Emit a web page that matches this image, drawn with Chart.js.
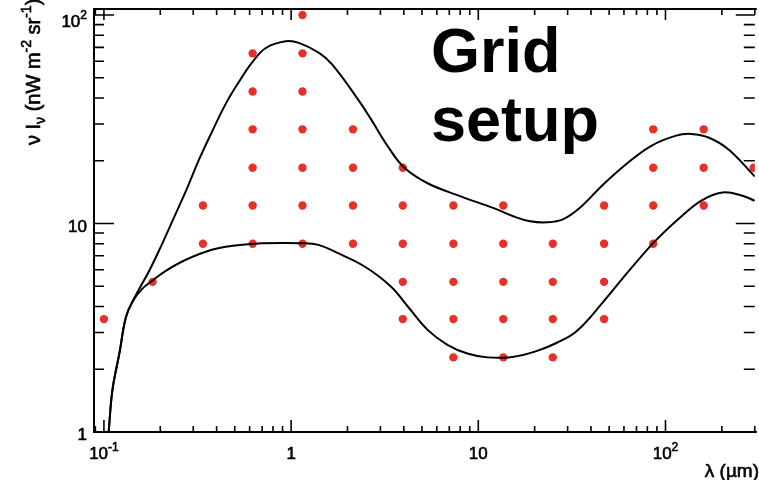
<!DOCTYPE html>
<html>
<head>
<meta charset="utf-8">
<script src="https://cdn.jsdelivr.net/npm/chart.js@4.4.1/dist/chart.umd.min.js"></script>
<style>
  html, body { margin: 0; padding: 0; background: #fff; }
  #sed { display: block; }
</style>
</head>
<body>
<canvas id="sed" width="759" height="480"></canvas>
<script>
// upper and lower envelope of the spectra (lambda in um, nu I_nu in nW m^-2 sr^-1)
const upperLambda = [0.106, 0.111, 0.121, 0.131, 0.1426, 0.1553, 0.1755, 0.200, 0.2324, 0.2758, 0.3233, 0.3804, 0.448, 0.527, 0.618, 0.733, 0.936, 1.10, 1.41, 1.66, 2.28, 2.68, 3.29, 4.03, 5.36, 8.05, 12.1, 15.5, 18.9, 23.3, 28.3, 34.9, 46.2, 61.8, 84, 114, 137, 171, 218, 300];
const upperFlux   = [1.0, 1.59, 2.39, 3.55, 4.25, 4.91, 5.99, 7.64, 10.3, 14.5, 20.4, 27.9, 37.6, 47.9, 59.1, 69.5, 74.8, 73.5, 65.8, 57.8, 39.3, 31.5, 23.4, 18.5, 15.6, 13.5, 11.85, 10.8, 10.25, 10.13, 10.47, 11.9, 15.3, 19.3, 23.6, 26.4, 26.9, 25.8, 22.6, 16.8];

const lowerLambda = [0.106, 0.111, 0.121, 0.131, 0.142, 0.160, 0.181, 0.214, 0.274, 0.377, 0.488, 0.696, 1.15, 1.40, 1.78, 2.47, 3.42, 4.20, 5.36, 6.84, 8.74, 11.2, 15.2, 20.6, 26.3, 33.6, 46.5, 64.4, 89.3, 124, 158, 202, 258, 300];
const lowerFlux   = [1.0, 1.59, 2.39, 3.55, 4.21, 4.86, 5.31, 5.93, 6.70, 7.48, 7.82, 8.04, 8.05, 7.90, 7.21, 6.22, 4.98, 4.00, 3.09, 2.62, 2.38, 2.28, 2.29, 2.45, 2.68, 3.05, 4.21, 5.99, 8.35, 11.0, 13.0, 14.1, 13.6, 12.85];

// grid nodes: columns in lambda, rows in flux, and which rows are used per column
const gridLambda = [0.1, 0.182, 0.338, 0.623, 1.15, 2.14, 3.95, 7.36, 13.6, 25, 47, 86, 160, 296];
const gridFlux   = [2.28, 3.48, 5.25, 8.0, 12.2, 18.5, 28.3, 43, 65.5, 100];
const gridRows   = [[1], [2], [3, 4], [3, 4, 5, 6, 7, 8], [3, 4, 5, 6, 7, 8, 9], [3, 4, 5, 6], [1, 2, 3, 4, 5], [0, 1, 2, 3, 4], [0, 1, 2, 3, 4], [0, 1, 2, 3], [1, 2, 3, 4], [3, 4, 5, 6], [4, 5, 6], [5]];

// decade labels: [base, exponent]
const xDecades = [0.1, 1, 10, 100];
const xDecadeLabels = [['10', '-1'], ['1', ''], ['10', ''], ['10', '2']];
const yDecades = [1, 10, 100];
const yDecadeLabels = [['1', ''], ['10', ''], ['10', '2']];

const FONT = '"Liberation Sans", Arial, sans-serif';

const toXY = (xs, ys) => xs.map((v, i) => ({ x: v, y: ys[i] }));

const gridPoints = [];
gridRows.forEach((rows, i) => {
  rows.forEach(j => gridPoints.push({ x: gridLambda[i], y: gridFlux[j] }));
});

// 1..9 x 10^n ticks inside [min, max]; major = decade
function logTicks(min, max) {
  const out = [];
  for (let d = Math.floor(Math.log10(min)); d <= Math.ceil(Math.log10(max)); d++) {
    for (let m = 1; m <= 9; m++) {
      const v = m * Math.pow(10, d);
      if (v >= min && v <= max) out.push([v, m === 1]);
    }
  }
  return out;
}

// slightly heavier text, the labels are thick in this style
function heavyText(ctx, t, x, y) {
  ctx.fillText(t, x, y);
  ctx.strokeText(t, x, y);
}

function labelWidth(ctx, base, sup, size) {
  ctx.font = size + 'px ' + FONT;
  let w = ctx.measureText(base).width;
  if (sup) {
    ctx.font = Math.round(size * 0.68) + 'px ' + FONT;
    w += ctx.measureText(sup).width;
  }
  return w;
}

function drawLabel(ctx, base, sup, x, y, size) {
  ctx.textAlign = 'left';
  ctx.textBaseline = 'alphabetic';
  ctx.font = size + 'px ' + FONT;
  heavyText(ctx, base, x, y);
  if (sup) {
    const bw = ctx.measureText(base).width;
    ctx.font = Math.round(size * 0.68) + 'px ' + FONT;
    heavyText(ctx, sup, x + bw, y - size * 0.45);
  }
}

const axesPlugin = {
  id: 'rootAxes',
  afterDraw(chart) {
    const { ctx, chartArea: a, scales: { x, y } } = chart;
    ctx.save();
    ctx.strokeStyle = '#000';
    ctx.fillStyle = '#000';

    // frame
    ctx.lineWidth = 2;
    ctx.beginPath();
    ctx.moveTo(a.right + 2, a.top);
    ctx.lineTo(a.left, a.top);
    ctx.lineTo(a.left, a.bottom);
    ctx.lineTo(a.right + 2, a.bottom);
    ctx.stroke();

    // inward tick marks
    ctx.lineWidth = 1.6;
    ctx.beginPath();
    logTicks(x.min, x.max).forEach(([v, major]) => {
      const px = x.getPixelForValue(v);
      ctx.moveTo(px, a.bottom);
      ctx.lineTo(px, a.bottom - (major ? 12 : 6));
      ctx.moveTo(px, a.top);
      ctx.lineTo(px, a.top + (major ? 11 : 6));
    });
    logTicks(y.min, y.max).forEach(([v, major]) => {
      const py = y.getPixelForValue(v);
      ctx.moveTo(a.left, py);
      ctx.lineTo(a.left + (major ? 20 : 10), py);
      ctx.moveTo(a.right, py);
      ctx.lineTo(a.right - (major ? 19 : 11), py);
    });
    ctx.stroke();

    // decade labels
    ctx.lineWidth = 0.6;
    const size = 17;
    xDecades.forEach((v, i) => {
      const [base, sup] = xDecadeLabels[i];
      const w = labelWidth(ctx, base, sup, size);
      drawLabel(ctx, base, sup, x.getPixelForValue(v) - w / 2, a.bottom + 27, size);
    });
    yDecades.forEach((v, i) => {
      const [base, sup] = yDecadeLabels[i];
      const w = labelWidth(ctx, base, sup, size);
      const by = Math.max(y.getPixelForValue(v) + 8, a.top + 18);
      drawLabel(ctx, base, sup, a.left - 7 - w, by, size);
    });

    // x title
    ctx.font = '19px ' + FONT;
    ctx.textAlign = 'right';
    heavyText(ctx, '\u03bb (\u00b5m)', 759, 477);

    // y title, rotated, reading upward, ending near the top
    ctx.save();
    ctx.translate(40, 145);
    ctx.rotate(-Math.PI / 2);
    const parts = [
      ['\u03bd I', 0, 20],
      ['\u03bd', 5, 14],
      [' (nW m', 0, 20],
      ['-2', -9, 14],
      [' sr', 0, 20],
      ['-1', -9, 14],
      [')', 0, 20]
    ];
    let cx = 0;
    ctx.textAlign = 'left';
    parts.forEach(([t, dy, fs]) => {
      ctx.font = fs + 'px ' + FONT;
      heavyText(ctx, t, cx, dy);
      cx += ctx.measureText(t).width;
    });
    ctx.restore();

    // heading
    ctx.font = 'bold 63px ' + FONT;
    ctx.textAlign = 'left';
    ctx.fillText('Grid', 431, 72);
    ctx.fillText('setup', 431, 141);

    ctx.restore();
  }
};

new Chart(document.getElementById('sed'), {
  type: 'scatter',
  data: {
    datasets: [
      {
        label: 'upper',
        data: toXY(upperLambda, upperFlux),
        showLine: true,
        borderColor: '#000',
        borderWidth: 2,
        pointRadius: 0,
        tension: 0.4,
        order: 0
      },
      {
        label: 'lower',
        data: toXY(lowerLambda, lowerFlux),
        showLine: true,
        borderColor: '#000',
        borderWidth: 2,
        pointRadius: 0,
        tension: 0.4,
        order: 1
      },
      {
        label: 'grid',
        data: gridPoints,
        showLine: false,
        pointRadius: 4.2,
        pointBorderWidth: 0,
        pointBackgroundColor: '#e8302a',
        order: 2
      }
    ]
  },
  options: {
    responsive: false,
    animation: false,
    devicePixelRatio: 1,
    layout: { padding: { left: 94, top: 9, right: 0, bottom: 48 } },
    scales: {
      x: { type: 'logarithmic', min: 0.0885, max: 300, display: false },
      y: { type: 'logarithmic', min: 1, max: 106.9, display: false }
    },
    plugins: {
      legend: { display: false },
      tooltip: { enabled: false }
    }
  },
  plugins: [axesPlugin]
});
</script>
</body>
</html>
